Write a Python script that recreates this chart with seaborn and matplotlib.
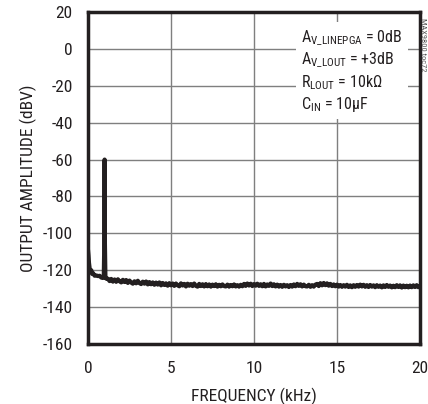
import numpy as np
import pandas as pd
import matplotlib
matplotlib.use("Agg")
import matplotlib.pyplot as plt
from matplotlib import font_manager as fm
import seaborn as sns

# low-frequency section incl. the 1kHz tone
low_freq = [0.0, 0.03, 0.06, 0.1, 0.15, 0.2, 0.25, 0.3, 0.4, 0.5, 0.6, 0.7, 0.8, 0.9,
            0.95, 0.99, 1.0, 1.01, 1.05, 1.1]
low_amp = [-109, -112, -116, -119, -121, -120, -122, -121.5, -123, -122.8, -123.2, -123.0,
           -124.0, -124.2, -123.8, -100, -60, -100, -123.8, -124.6]

# noise floor, 1.2 .. 20 kHz in 0.1 kHz steps
floor_amp = [
    -124.6, -125.9, -124.7, -126.2, -125.0, -126.3, -124.9, -126.0, -126.6, -125.2,
    -126.4, -125.3, -126.9, -125.6, -126.7, -127.3, -126.0, -127.1, -125.7, -127.0,
    -127.5, -126.2, -127.3, -126.1, -127.7, -126.4, -127.6, -126.6, -127.9, -126.7,
    -127.8, -126.6, -128.2, -126.9, -128.0, -127.1, -128.4, -127.0, -128.2, -127.2,
    -128.5, -127.2, -128.2, -128.7, -127.1, -128.3, -127.4, -128.8, -127.3, -128.4,
    -127.5, -128.6, -127.2, -128.5, -128.9, -127.4, -128.6, -127.6, -128.8, -127.5,
    -128.7, -127.7, -128.9, -127.8, -128.6, -127.6, -128.9, -127.9, -128.7, -127.7,
    -128.6, -128.8, -127.8, -128.9, -128.0, -128.7, -127.7, -128.8, -128.1, -128.9,
    -127.9, -128.7, -127.4, -128.5, -127.2, -128.3, -127.3, -128.6, -127.5, -128.4,
    -127.3, -128.5, -127.6, -128.7, -127.4, -128.8, -127.7, -128.5, -127.2, -128.6,
    -127.6, -128.8, -127.8, -128.9, -128.0, -129.0, -127.9, -128.8, -128.1, -129.1,
    -128.0, -128.9, -127.7, -128.7, -127.4, -128.5, -127.6, -128.8, -127.8, -128.7,
    -128.8, -127.9, -129.0, -128.1, -128.9, -127.8, -127.4, -128.6, -127.0, -128.2,
    -126.9, -128.1, -127.1, -128.4, -127.4, -128.6, -127.7, -128.7, -127.8, -128.9,
    -128.0, -129.0, -128.1, -128.9, -127.9, -129.1, -128.2, -129.2, -128.1, -129.0,
    -128.0, -128.9, -127.8, -128.8, -127.9, -129.0, -128.1, -129.1, -128.0, -128.9,
    -128.2, -129.2, -128.1, -129.0, -128.3, -129.3, -128.2, -129.1, -128.0, -129.0,
    -128.3, -129.3, -128.4, -129.2, -128.1, -129.1, -128.2, -129.4, -128.3, -129.2,
    -128.4, -129.3, -128.3, -129.2, -128.2, -129.1, -128.1, -129.2, -128.4,
]
floor_freq = np.arange(12, 201) / 10

x_ticks = [0, 5, 10, 15, 20]
y_ticks = [20, 0, -20, -40, -60, -80, -100, -120, -140, -160]

df = pd.DataFrame({
    "freq": list(low_freq) + list(floor_freq),
    "amp": list(low_amp) + list(floor_amp),
})

# pick a narrow sans if one is installed
names = {f.name for f in fm.fontManager.ttflist}
narrow = None
for cand in ["Liberation Sans Narrow", "Roboto Condensed", "DejaVu Sans Condensed",
             "Open Sans Condensed", "Noto Sans Condensed"]:
    if cand in names:
        narrow = cand
        break
stretch = "normal"
if narrow is None:
    narrow = "DejaVu Sans"
    if any(f.name == "DejaVu Sans" and f.stretch in ("condensed", 500 - 125)
           for f in fm.fontManager.ttflist):
        stretch = "condensed"

sns.set_style("white")
plt.rcParams["font.family"] = [narrow, "DejaVu Sans"]
plt.rcParams["font.stretch"] = stretch
plt.rcParams["axes.unicode_minus"] = False
plt.rcParams["mathtext.fontset"] = "custom"
plt.rcParams["mathtext.rm"] = f"{narrow}:stretch={stretch}"

txt = "#231f20"
fig = plt.figure(figsize=(4.28, 4.04), dpi=100)
ax = fig.add_axes([0.2056, 0.1485, 0.7757, 0.8218])

sns.lineplot(data=df, x="freq", y="amp", ax=ax, color=txt, lw=3.0, sort=False)

ax.set_xlim(0, 20)
ax.set_ylim(-160, 20)
ax.set_xticks(x_ticks)
ax.set_yticks(y_ticks)
ax.grid(True, color="#7f7f7f", lw=1.0)
ax.tick_params(length=0, labelsize=12.5, colors=txt)
ax.tick_params(axis="x", pad=12)
ax.tick_params(axis="y", pad=11)
for s in ax.spines.values():
    s.set_linewidth(2.5)
    s.set_color(txt)

ax.set_xlabel("FREQUENCY (kHz)", fontsize=12.5, color=txt, labelpad=9)
ax.set_ylabel("OUTPUT AMPLITUDE (dBV)", fontsize=12.5, color=txt, labelpad=4)

lines = [
    r"A$_{\mathrm{V\_LINEPGA}}$ = 0dB",
    r"A$_{\mathrm{V\_LOUT}}$ = +3dB",
    r"R$_{\mathrm{LOUT}}$ = 10k$\mathrm{\Omega}$",
    r"C$_{\mathrm{IN}}$ = 10$\mathrm{\mu}$F",
]
ax.text(0.643, 0.95, "\n".join(lines), transform=ax.transAxes, ha="left", va="top",
        fontsize=11.5, color=txt, linespacing=1.22,
        bbox=dict(facecolor="white", edgecolor="none", pad=4), zorder=5)

fig.text(0.988, 0.955, "MAX9800 toc72", rotation=-90, fontsize=6, color="#555555",
         ha="center", va="top")

fig.savefig("out.png", dpi=100)
